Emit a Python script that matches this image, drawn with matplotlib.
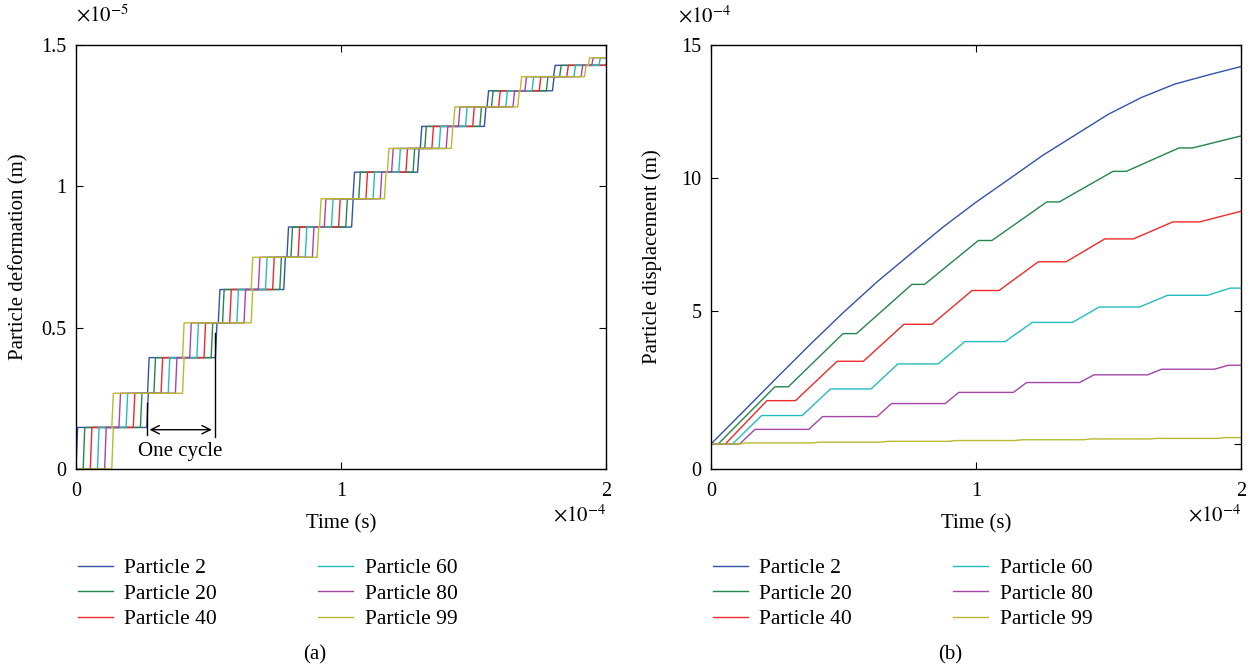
import matplotlib
matplotlib.use("Agg")
import matplotlib.pyplot as plt
import numpy as np

plt.rcParams['font.family'] = ['Liberation Serif', 'DejaVu Serif']
plt.rcParams['mathtext.fontset'] = 'stix'
plt.rcParams['font.size'] = 15

names = ["Particle 2", "Particle 20", "Particle 40", "Particle 60", "Particle 80", "Particle 99"]
colors = ['#3352a8', '#24864a', '#ee2a2a', '#25bcc0', '#a545a8', '#b9b935']

# ---- (a) deformation: staircase (time in 1e-4 s, value in 1e-5 m)
levels = [0, 0.147, 0.268, 0.394, 0.517, 0.635, 0.749, 0.856, 0.956,
          1.05, 1.134, 1.212, 1.281, 1.338, 1.388, 1.428, 1.455]
jumps_first = [0, 0.267, 0.526, 0.784, 1.040, 1.289, 1.541, 1.798]   # particle 2
jumps_last = [0.135, 0.402, 0.661, 0.910, 1.164, 1.416, 1.667, 1.919]  # particle 99
delays = [0, 0.027, 0.054, 0.081, 0.108, 0.135]

# ---- (b) displacement breakpoints (time in 1e-4 s, value in 1e-4 m)
disp_t = [
    [0, 0.125, 0.25, 0.375, 0.5, 0.625, 0.75, 0.875, 1.0, 1.125, 1.25, 1.375, 1.5, 1.625, 1.75, 1.875, 2.0],
    [0, 0.027, 0.241, 0.292, 0.498, 0.549, 0.758, 0.806, 1.009, 1.060, 1.267, 1.314, 1.517, 1.567, 1.766, 1.817, 2.0],
    [0, 0.054, 0.211, 0.319, 0.476, 0.575, 0.728, 0.834, 0.985, 1.087, 1.235, 1.340, 1.486, 1.594, 1.743, 1.844, 2.0],
    [0, 0.081, 0.191, 0.344, 0.451, 0.604, 0.705, 0.857, 0.958, 1.110, 1.212, 1.364, 1.465, 1.617, 1.723, 1.874, 1.959, 2.0],
    [0, 0.108, 0.166, 0.369, 0.421, 0.627, 0.681, 0.884, 0.935, 1.141, 1.191, 1.391, 1.445, 1.648, 1.700, 1.899, 1.953, 2.0],
    [0, 0.108, 0.132, 0.383, 0.41, 0.64, 0.667, 0.897, 0.924, 1.147, 1.175, 1.405, 1.432, 1.655, 1.682, 1.912, 1.939, 2.0],
]
disp_v = [
    [0, 1.25, 2.51, 3.75, 4.95, 6.08, 7.12, 8.15, 9.09, 9.96, 10.84, 11.62, 12.40, 13.03, 13.53, 13.87, 14.19],
    [0, 0, 2.15, 2.15, 4.15, 4.15, 6.0, 6.0, 7.65, 7.65, 9.10, 9.10, 10.25, 10.25, 11.13, 11.13, 11.58],
    [0, 0, 1.63, 1.63, 3.11, 3.11, 4.50, 4.50, 5.77, 5.77, 6.85, 6.85, 7.71, 7.71, 8.35, 8.35, 8.75],
    [0, 0, 1.07, 1.07, 2.07, 2.07, 3.01, 3.01, 3.85, 3.85, 4.57, 4.57, 5.15, 5.15, 5.59, 5.59, 5.86, 5.86],
    [0, 0, 0.55, 0.55, 1.03, 1.03, 1.52, 1.52, 1.94, 1.94, 2.31, 2.31, 2.60, 2.60, 2.81, 2.81, 2.96, 2.96],
    [0, 0, 0.04, 0.04, 0.07, 0.07, 0.10, 0.10, 0.13, 0.13, 0.16, 0.16, 0.19, 0.19, 0.21, 0.21, 0.24, 0.24],
]

fig = plt.figure(figsize=(12.56, 6.69), dpi=100)
ax1 = fig.add_axes([76/1256, 1-469/669, 530/1256, 424/669])
ax2 = fig.add_axes([711/1256, 1-469/669, 530/1256, 424/669])

ramp = 0.006
T_half = jumps_last[0]
for name, c, d in zip(names, colors, delays):
    passes = [j + d for j in jumps_first] + [j + (T_half - d) for j in jumps_last]
    passes = sorted(p for p in passes if p <= 2.0)
    xs, ys = [0.0], [0.0]
    for i, p in enumerate(passes):
        xs += [p, p + ramp]
        ys += [levels[i], levels[i + 1]]
    xs.append(2.0)
    ys.append(ys[-1])
    ax1.plot(xs, ys, color=c, lw=1.0, label=name)

# one-cycle annotation
ax1.plot([0.267, 0.267], [0.122, 0.233], color='k', lw=1.0)
ax1.plot([0.523, 0.523], [0.112, 0.48], color='k', lw=1.0)
ax1.annotate('', xy=(0.267, 0.139), xytext=(0.523, 0.139),
             arrowprops=dict(arrowstyle='<->', color='k', lw=1.0))
ax1.text(0.395, 0.062, 'One cycle', ha='center', va='center', fontsize=15)

for name, c, t, v in zip(names, colors, disp_t, disp_v):
    ax2.plot(t, v, color=c, lw=1.0, label=name)

ax1.set_xlim(0, 2)
ax1.set_ylim(0, 1.5)
ax1.set_xticks([0, 1, 2])
ax1.set_xticklabels(['0', '1', '2'])
ax1.set_yticks([0, 0.5, 1, 1.5])
ax1.set_yticklabels(['0', '0.5', '1', '1.5'])
ax1.set_xlabel('Time (s)', labelpad=10)
ax1.set_ylabel('Particle deformation (m)', labelpad=9)

ax2.set_xlim(0, 2)
ax2.set_ylim(-0.94, 15)
ax2.set_xticks([0, 1, 2])
ax2.set_xticklabels(['0', '1', '2'])
ax2.set_yticks([-0.94, 0, 5, 10, 15])
ax2.set_yticklabels(['0', '', '5', '10', '15'])
ax2.set_xlabel('Time (s)', labelpad=10)
ax2.set_ylabel('Particle displacement (m)', labelpad=14)

for ax in (ax1, ax2):
    ax.tick_params(direction='in', top=True, right=True, length=5, width=0.8, labelsize=14.5)
    ax.tick_params(axis='x', pad=9)
    ax.tick_params(axis='y', pad=7)
    for s in ax.spines.values():
        s.set_linewidth(1.0)
    ax.legend(loc='upper left', bbox_to_anchor=(0.004, -0.21), ncol=2, frameon=False,
              borderpad=0, borderaxespad=0,
              handlelength=1.6, handletextpad=0.55, columnspacing=4.7, labelspacing=0.26,
              fontsize=15.5)

fig.text(76/1256, 1-16/669, r'$\times10^{-5}$', ha='left', va='center', fontsize=15)
fig.text(606/1256, 1-516/669, r'$\times10^{-4}$', ha='right', va='center', fontsize=15)
fig.text(678/1256, 1-17/669, r'$\times10^{-4}$', ha='left', va='center', fontsize=15)
fig.text(1241/1256, 1-516/669, r'$\times10^{-4}$', ha='right', va='center', fontsize=15)
fig.text(315/1256, 1-655/669, '(a)', ha='center', va='center', fontsize=15)
fig.text(950/1256, 1-655/669, '(b)', ha='center', va='center', fontsize=15)

fig.savefig('out.png', dpi=100)
